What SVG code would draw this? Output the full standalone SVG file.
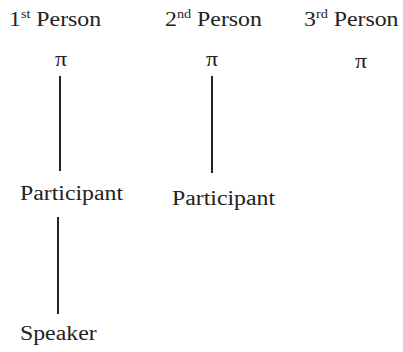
<svg xmlns="http://www.w3.org/2000/svg" width="403" height="352" viewBox="0 0 403 352" font-family="'Liberation Serif', 'Times New Roman', serif">
<style>
text{font-family:'Liberation Serif','Times New Roman',serif;font-size:20px;fill:#222}
.sup{font-size:12px}
.c line{stroke:#222;stroke-width:2}
</style>
<rect width="403" height="352" fill="#fff"/>
<g id="h1" transform="translate(9,26) scale(1.19,1)"><text>1<tspan class="sup" dy="-8">st</tspan><tspan dy="8"> Person</tspan></text></g>
<g id="h2" transform="translate(165,26) scale(1.19,1)"><text>2<tspan class="sup" dy="-8">nd</tspan><tspan dy="8"> Person</tspan></text></g>
<g id="h3" transform="translate(304,26) scale(1.19,1)"><text>3<tspan class="sup" dy="-8">rd</tspan><tspan dy="8"> Person</tspan></text></g>
<g id="pi1" transform="translate(61,66) scale(1.19,1)"><text text-anchor="middle">π</text></g>
<g id="pi2" transform="translate(212,66) scale(1.19,1)"><text text-anchor="middle">π</text></g>
<g id="pi3" transform="translate(361,68) scale(1.19,1)"><text text-anchor="middle">π</text></g>
<g id="p1" transform="translate(20,200) scale(1.19,1)"><text>Participant</text></g>
<g id="p2" transform="translate(172,205) scale(1.19,1)"><text>Participant</text></g>
<g id="sp" transform="translate(20,340) scale(1.19,1)"><text>Speaker</text></g>
<g class="c">
<line x1="60" y1="76" x2="60" y2="171"/>
<line x1="212" y1="76" x2="212" y2="173"/>
<line x1="58" y1="217" x2="58" y2="314"/>
</g>
</svg>
